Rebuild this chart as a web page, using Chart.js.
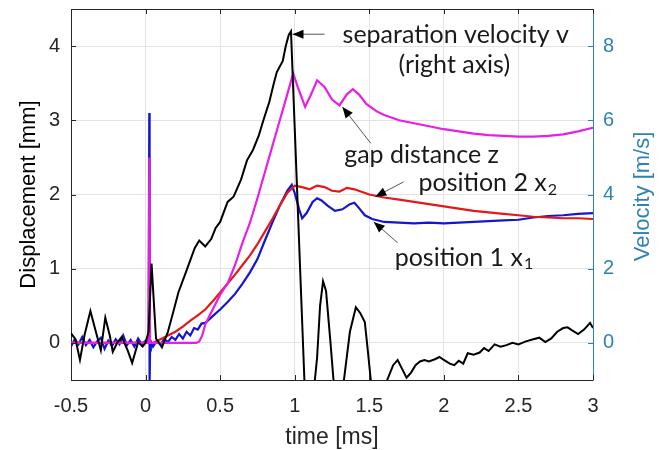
<!DOCTYPE html>
<html>
<head>
<meta charset="utf-8">
<script src="https://cdn.jsdelivr.net/npm/chart.js@4.4.1/dist/chart.umd.min.js"></script>
<style>
html, body { margin: 0; padding: 0; background: #fff; }
</style>
</head>
<body>
<canvas id="chart" width="665" height="450"></canvas>
<script>
// axis ticks
const xTicks = [-0.5, 0, 0.5, 1, 1.5, 2, 2.5, 3];
const leftTicks = [0, 1, 2, 3, 4];
const rightTicks = [0, 2, 4, 6, 8];

// separation velocity v [m/s] (right axis)
const tVel = [-0.5, -0.47, -0.44, -0.41, -0.37, -0.34, -0.3, -0.27, -0.24, -0.22, -0.19, -0.16, -0.12, -0.09, -0.05, -0.02, 0, 0.02, 0.04, 0.07, 0.11, 0.15, 0.19, 0.22, 0.27, 0.33, 0.36, 0.4, 0.44, 0.47, 0.5, 0.55, 0.59, 0.64, 0.68, 0.72, 0.76, 0.79, 0.83, 0.86, 0.88, 0.92, 0.94, 0.96, 0.975, 1.0, 1.02, 1.04, 1.065, 1.09, 1.12, 1.15, 1.17, 1.19, 1.21, 1.24, 1.26, 1.29, 1.33, 1.37, 1.41, 1.44, 1.47, 1.49, 1.51, 1.56, 1.62, 1.66, 1.69, 1.72, 1.75, 1.78, 1.81, 1.84, 1.87, 1.9, 1.94, 1.97, 2.0, 2.04, 2.07, 2.1, 2.13, 2.16, 2.2, 2.24, 2.27, 2.3, 2.34, 2.38, 2.42, 2.46, 2.5, 2.55, 2.6, 2.64, 2.68, 2.72, 2.76, 2.8, 2.83, 2.86, 2.9, 2.94, 2.98, 3.0];
const vel = [0.26, 0.1, -0.46, 0.2, 0.86, 0.4, -0.2, 0.68, 0.2, -0.24, 0.0, 0.16, -0.2, -0.54, 0.02, -0.1, 0.0, 0.3, 2.14, 0.12, -0.12, 0.3, 0.9, 1.36, 1.9, 2.56, 2.76, 2.6, 2.8, 3.1, 3.26, 3.8, 3.94, 4.4, 4.92, 5.2, 5.6, 6.0, 6.5, 7.0, 7.3, 7.6, 8.0, 8.3, 8.4, 5.8, 3.7, 1.6, -1.0, -2.0, -1.6, -0.4, 1.0, 1.66, 1.4, 0.0, -1.0, -1.8, -1.0, 0.3, 0.96, 0.8, 0.56, -0.2, -1.0, -1.6, -1.0, -0.6, -0.46, -0.7, -0.94, -0.8, -0.6, -0.5, -0.46, -0.5, -0.44, -0.38, -0.46, -0.56, -0.6, -0.48, -0.56, -0.28, -0.32, -0.26, -0.14, -0.22, -0.04, -0.1, -0.06, 0.0, -0.04, 0.04, 0.1, 0.14, 0.02, 0.12, 0.3, 0.4, 0.42, 0.34, 0.24, 0.36, 0.54, 0.4];

// gap distance z [mm]
const tGap = [-0.5, -0.3, -0.1, 0.02, 0.025, 0.03, 0.1, 0.2, 0.34, 0.36, 0.38, 0.4, 0.45, 0.5, 0.55, 0.6, 0.65, 0.7, 0.75, 0.8, 0.85, 0.9, 0.95, 0.99, 1.02, 1.07, 1.11, 1.15, 1.2, 1.25, 1.3, 1.35, 1.39, 1.43, 1.48, 1.55, 1.6, 1.7, 1.8, 1.9, 2.0, 2.1, 2.2, 2.3, 2.4, 2.5, 2.6, 2.7, 2.8, 2.9, 3.0];
const gap = [0, 0, 0, 0, 2.5, 0, 0, 0, 0, 0.02, 0.1, 0.25, 0.45, 0.65, 0.8, 1.05, 1.35, 1.62, 1.95, 2.3, 2.65, 3.0, 3.35, 3.63, 3.45, 3.18, 3.35, 3.54, 3.45, 3.28, 3.2, 3.35, 3.42, 3.35, 3.22, 3.12, 3.07, 3.0, 2.96, 2.92, 2.88, 2.85, 2.82, 2.8, 2.79, 2.78, 2.78, 2.79, 2.81, 2.85, 2.9];

// position 2 x2 [mm]
const tPos2 = [-0.5, 0.05, 0.1, 0.15, 0.2, 0.25, 0.3, 0.35, 0.4, 0.45, 0.5, 0.55, 0.6, 0.65, 0.7, 0.75, 0.8, 0.85, 0.9, 0.95, 1.0, 1.05, 1.1, 1.15, 1.2, 1.25, 1.3, 1.35, 1.4, 1.5, 1.6, 1.7, 1.8, 1.9, 2.0, 2.1, 2.2, 2.3, 2.4, 2.5, 2.6, 2.7, 2.8, 2.9, 3.0];
const pos2 = [0, 0, 0.05, 0.1, 0.15, 0.22, 0.3, 0.37, 0.45, 0.56, 0.68, 0.8, 0.92, 1.05, 1.18, 1.33, 1.5, 1.67, 1.85, 2.02, 2.12, 2.1, 2.07, 2.12, 2.1, 2.05, 2.04, 2.09, 2.07, 2.0, 1.96, 1.93, 1.9, 1.87, 1.84, 1.81, 1.78, 1.76, 1.74, 1.72, 1.7, 1.69, 1.68, 1.68, 1.67];

// position 1 x1 [mm]
const tPos1 = [-0.5, -0.475, -0.45, -0.425, -0.4, -0.375, -0.35, -0.325, -0.3, -0.275, -0.25, -0.225, -0.2, -0.175, -0.15, -0.125, -0.1, -0.075, -0.05, -0.025, 0, 0.02, 0.025, 0.027, 0.03, 0.035, 0.05, 0.075, 0.1, 0.125, 0.15, 0.175, 0.2, 0.225, 0.25, 0.275, 0.3, 0.325, 0.35, 0.375, 0.4, 0.45, 0.5, 0.55, 0.6, 0.65, 0.7, 0.75, 0.8, 0.85, 0.9, 0.95, 0.98, 1.0, 1.03, 1.05, 1.08, 1.12, 1.15, 1.18, 1.22, 1.27, 1.32, 1.37, 1.4, 1.43, 1.47, 1.52, 1.6, 1.7, 1.8, 1.9, 2.0, 2.1, 2.2, 2.3, 2.4, 2.5, 2.6, 2.7, 2.8, 2.9, 3.0];
const pos1 = [-0.05, 0.05, -0.02, 0.08, -0.03, 0.04, -0.06, 0.02, 0.07, -0.08, 0.03, -0.04, 0.05, -0.02, 0.1, -0.03, 0.04, -0.05, 0.06, -0.02, 0.03, 0, 3.1, -0.55, -0.1, 0.02, -0.05, 0.03, -0.02, 0.05, 0.01, 0.08, 0.04, 0.12, 0.06, 0.15, 0.1, 0.2, 0.18, 0.26, 0.27, 0.36, 0.45, 0.55, 0.66, 0.8, 0.95, 1.13, 1.38, 1.62, 1.85, 2.05, 2.13, 2.02, 1.8, 1.68, 1.75, 1.9, 1.95, 1.92, 1.85, 1.78, 1.8, 1.87, 1.89, 1.82, 1.72, 1.67, 1.63, 1.62, 1.61, 1.62, 1.61, 1.62, 1.63, 1.64, 1.65, 1.66, 1.69, 1.71, 1.72, 1.74, 1.75];

const teal = '#2f82b4';
const pts = (ts, vs) => ts.map((t, i) => ({x: t, y: vs[i]}));

// labels, arrows, right title, top border and inward ticks
const decor = {
  id: 'decor',
  afterDatasetsDraw(chart) {
    const ctx = chart.ctx;
    const a = chart.chartArea;
    const sx = chart.scales.x, sy = chart.scales.y, sy2 = chart.scales.y2;
    const X = t => sx.getPixelForValue(t);
    const Y = v => sy.getPixelForValue(v);
    ctx.save();
    // inward ticks
    ctx.lineWidth = 1;
    ctx.strokeStyle = '#262626';
    xTicks.forEach(t => {
      const px = Math.round(X(t)) + 0.5;
      ctx.beginPath();
      ctx.moveTo(px, a.bottom); ctx.lineTo(px, a.bottom - 5);
      ctx.moveTo(px, a.top); ctx.lineTo(px, a.top + 5);
      ctx.stroke();
    });
    leftTicks.forEach(v => {
      const py = Math.round(Y(v)) + 0.5;
      ctx.beginPath(); ctx.moveTo(a.left, py); ctx.lineTo(a.left + 5, py); ctx.stroke();
    });
    ctx.strokeStyle = teal;
    rightTicks.forEach(v => {
      const py = Math.round(sy2.getPixelForValue(v)) + 0.5;
      ctx.beginPath(); ctx.moveTo(a.right, py); ctx.lineTo(a.right - 5, py); ctx.stroke();
    });
    // top border
    ctx.strokeStyle = '#262626';
    ctx.beginPath(); ctx.moveTo(a.left, a.top + 0.5); ctx.lineTo(a.right, a.top + 0.5); ctx.stroke();

    // right axis title, reading upwards
    ctx.save();
    ctx.translate(643, (a.top + a.bottom) / 2 + 2);
    ctx.rotate(-Math.PI / 2);
    ctx.font = '22px "Liberation Sans", Arial, sans-serif';
    ctx.fillStyle = teal;
    ctx.textAlign = 'center';
    ctx.textBaseline = 'middle';
    ctx.fillText('Velocity [m/s]', 0, 0);
    ctx.restore();

    function arrow(t1, v1, t2, v2) {
      const x1 = X(t1), y1 = Y(v1), x2 = X(t2), y2 = Y(v2);
      const ang = Math.atan2(y2 - y1, x2 - x1);
      ctx.strokeStyle = '#555';
      ctx.lineWidth = 1;
      ctx.beginPath(); ctx.moveTo(x1, y1); ctx.lineTo(x2, y2); ctx.stroke();
      ctx.fillStyle = '#000';
      ctx.beginPath();
      ctx.moveTo(x2, y2);
      ctx.lineTo(x2 - 11 * Math.cos(ang) + 4.5 * Math.sin(ang), y2 - 11 * Math.sin(ang) - 4.5 * Math.cos(ang));
      ctx.lineTo(x2 - 11 * Math.cos(ang) - 4.5 * Math.sin(ang), y2 - 11 * Math.sin(ang) + 4.5 * Math.cos(ang));
      ctx.closePath();
      ctx.fill();
    }
    const big = '25px Lato', small = '16px Lato';
    function text(str, sub, t, v, align) {
      ctx.font = big;
      ctx.fillStyle = '#1a1a1a';
      ctx.textBaseline = 'middle';
      ctx.textAlign = 'left';
      const w = ctx.measureText(str).width;
      let ws = 0;
      if (sub) { ctx.font = small; ws = ctx.measureText(sub).width; ctx.font = big; }
      let x = X(t);
      if (align === 'center') x -= (w + ws) / 2;
      ctx.fillText(str, x, Y(v));
      if (sub) { ctx.font = small; ctx.fillText(sub, x + w + 1, Y(v) + 6); }
    }
    arrow(1.2, 4.16, 0.985, 4.16);
    arrow(1.51, 2.69, 1.32, 3.18);
    arrow(1.73, 2.17, 1.54, 1.97);
    arrow(1.69, 1.35, 1.53, 1.63);
    text('separation velocity v', null, 2.08, 4.15, 'center');
    text('(right axis)', null, 2.07, 3.74, 'center');
    text('gap distance z', null, 1.85, 2.53, 'center');
    text('position 2 x', '2', 1.83, 2.15, 'left');
    text('position 1 x', '1', 1.67, 1.14, 'left');
    ctx.restore();
  }
};

const tickFont = {family: '"Liberation Sans", Arial, sans-serif', size: 20};
const titleFont = {family: '"Liberation Sans", Arial, sans-serif', size: 23};

new Chart(document.getElementById('chart'), {
  type: 'line',
  data: {
    datasets: [
      {data: pts(tVel, vel), yAxisID: 'y2', borderColor: '#000', borderWidth: 2},
      {data: pts(tGap, gap), yAxisID: 'y', borderColor: '#e61ee6', borderWidth: 2.2},
      {data: pts(tPos2, pos2), yAxisID: 'y', borderColor: '#e41818', borderWidth: 2.2},
      {data: pts(tPos1, pos1), yAxisID: 'y', borderColor: '#1414d2', borderWidth: 2.2}
    ]
  },
  options: {
    responsive: false,
    animation: false,
    layout: {padding: {top: 9, left: 0, right: 0, bottom: 0}},
    elements: {point: {radius: 0}, line: {tension: 0}},
    plugins: {legend: {display: false}, tooltip: {enabled: false}},
    scales: {
      x: {
        type: 'linear',
        min: -0.5, max: 3,
        afterBuildTicks: s => { s.ticks = xTicks.map(v => ({value: v})); },
        afterFit: s => { s.height = 70; s.paddingLeft = 0; s.paddingRight = 0; },
        grid: {color: '#e3e3e3', drawTicks: false},
        border: {color: '#262626'},
        ticks: {font: tickFont, color: '#262626', padding: 14, maxRotation: 0, callback: v => String(v)},
        title: {display: true, text: 'time [ms]', font: titleFont, color: '#262626', padding: {top: 0, bottom: -1}}
      },
      y: {
        position: 'left',
        min: -0.5, max: 4.5,
        afterBuildTicks: s => { s.ticks = leftTicks.map(v => ({value: v})); },
        afterFit: s => { s.width = 71; s.paddingTop = 0; s.paddingBottom = 0; },
        grid: {color: '#e3e3e3', drawTicks: false},
        border: {color: '#262626'},
        ticks: {font: tickFont, color: '#262626', padding: 11, callback: v => String(v)},
        title: {display: true, text: 'Displacement [mm]', font: {family: titleFont.family, size: 22}, color: '#000', padding: {top: 16, bottom: 0}}
      },
      y2: {
        position: 'right',
        min: -1, max: 9,
        afterBuildTicks: s => { s.ticks = rightTicks.map(v => ({value: v})); },
        afterFit: s => { s.width = 72; s.paddingTop = 0; s.paddingBottom = 0; },
        grid: {display: false, drawTicks: false},
        border: {color: teal},
        ticks: {font: tickFont, color: teal, padding: 10, callback: v => String(v)},
        title: {display: false}
      }
    }
  },
  plugins: [decor]
});
</script>
</body>
</html>
